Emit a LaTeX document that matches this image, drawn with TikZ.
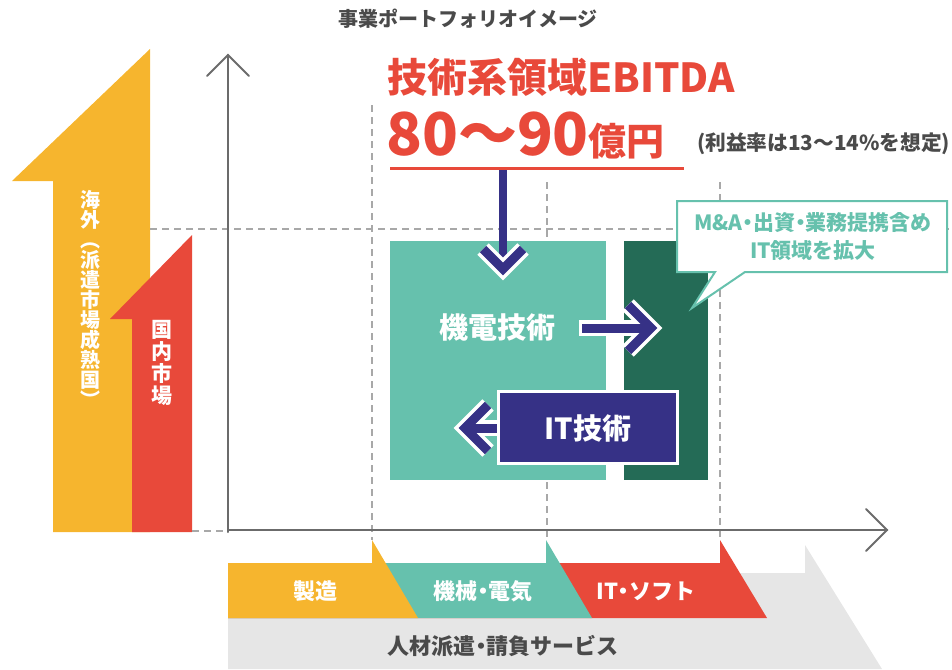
\documentclass[tikz,border=0pt]{standalone}
\usepackage{fontspec}
\setmainfont{Noto Sans CJK JP}
\definecolor{yelc}{HTML}{F6B52E}
\definecolor{redc}{HTML}{E8493A}
\definecolor{tealc}{HTML}{66C1AD}
\definecolor{darkg}{HTML}{246B56}
\definecolor{navyc}{HTML}{363186}
\definecolor{bandgray}{HTML}{E6E6E6}
\definecolor{dashgray}{HTML}{A8A8A8}
\definecolor{axisgray}{HTML}{6B6B6B}
\definecolor{txtgray}{HTML}{4A4A4A}
\newcommand{\ndot}{{\kern-0.25em・\kern-0.25em}}
\begin{document}
\begin{tikzpicture}[x=1pt,y=-1pt,
  guide/.style={dashgray,line width=1.1pt,dash pattern=on 7pt off 5pt},
  axisline/.style={axisgray,line width=2pt,line cap=round,line join=miter},
  arrwhite/.style={white,line width=16pt,line join=miter,line cap=butt},
  arrnavy/.style={navyc,line width=9pt,line join=miter,line cap=butt},
  lbl/.style={inner sep=0pt,font=\bfseries},
  vtext/.style={inner sep=0pt,align=center,text=white,font=\bfseries}]
\useasboundingbox (0,0) rectangle (952,669);

% title
\node[lbl,text=txtgray,font=\bfseries\fontsize{20}{22}\selectfont] (title) at (468,19) {事業ポートフォリオイメージ};

% market arrows
\fill[yelc] (150,49) -- (150,532) -- (53,532) -- (53,181) -- (12,181) -- cycle;
\fill[redc] (192,235) -- (192,532) -- (132,532) -- (132,319) -- (110,319) -- cycle;
\node[vtext,font=\bfseries\fontsize{20}{20}\selectfont] (kaigai) at (90,299) {海\\外\\︵\\派\\遣\\市\\場\\成\\熟\\国\\︶};
\node[vtext,font=\bfseries\fontsize{21}{21.8}\selectfont] (kokunai) at (162,363) {国\\内\\市\\場};

% guides
\draw[guide] (150,229) -- (952,229);
\draw[guide] (192,531) -- (228,531);
\draw[guide] (372,105) -- (372,540);
\draw[guide] (547,182) -- (547,540);
\draw[guide] (720,182) -- (720,540);

% axes
\coordinate (org) at (228,530);
\coordinate (ytip) at (228,55);
\coordinate (xtip) at (887,530);
\draw[axisline] (228,532) -- (ytip);
\draw[axisline] (207,76) -- (ytip) -- (249,76);
\draw[axisline] (org) -- (xtip);
\draw[axisline] (866,509) -- (xtip) -- (866,551);

% bottom bands
\fill[bandgray] (228,573) -- (805,573) -- (805,545) -- (882,669) -- (228,669) -- cycle;
\fill[redc] (228,563) -- (720,563) -- (720,540) -- (767,618) -- (228,618) -- cycle;
\fill[tealc] (228,563) -- (546,563) -- (546,540) -- (592,618) -- (228,618) -- cycle;
\fill[yelc] (228,563) -- (372,563) -- (372,540) -- (418,618) -- (228,618) -- cycle;
\node[lbl,text=white,font=\bfseries\fontsize{22}{24}\selectfont] (seizo) at (315,591) {製造};
\node[lbl,text=white,font=\bfseries\fontsize{22}{24}\selectfont] (kikai) at (483,591) {機械\ndot 電気};
\node[lbl,text=white,font=\bfseries\fontsize{22}{24}\selectfont] (itsoft) at (646,591) {IT\ndot ソフト};
\node[lbl,text=txtgray,font=\bfseries\fontsize{22}{24}\selectfont] (jinzai) at (503,646) {人材派遣\ndot 請負サービス};

% EBITDA headline
\node[lbl,text=redc,anchor=base west,font=\bfseries\fontsize{40}{44}\selectfont] (ebitda) at (387,92) {技術系領域EBITDA};
\node[lbl,text=redc,anchor=base west] (amount) at (386,155) {{\fontsize{59}{62}\selectfont 80～90}{\fontsize{38}{42}\selectfont 億円}};
\node[lbl,text=txtgray,anchor=base west,font=\bfseries\fontsize{20.7}{22}\selectfont] (rieki) at (697,150) {(利益率は13～14\%を想定)};
\coordinate (ulL) at (390,168);
\coordinate (ulR) at (684,168);

% boxes
\node[fill=tealc,inner sep=0pt,minimum width=216pt,minimum height=239pt] (kiden) at (498,360.5) {};
\node[fill=darkg,inner sep=0pt,minimum width=84pt,minimum height=239pt] (itarea) at (666,360.5) {};
\node[lbl,text=white,font=\bfseries\fontsize{29}{32}\selectfont] (kidenlbl) at (497,327) {機電技術};

% down arrow
\coordinate (dtop) at (503,168);
\coordinate (dtip) at (503,269);
\draw[navyc,line width=8pt] (dtop) -- (503,262);
\draw[arrwhite] (483,249) -- (dtip) -- (523,249);
\draw[arrnavy] (483,249) -- (dtip) -- (523,249);
\draw[redc,line width=3pt] (ulL) -- (ulR);

% right arrow
\coordinate (rtip) at (651,328);
\draw[arrwhite] (579,328) -- (645,328);
\draw[arrwhite] (628,305) -- (rtip) -- (628,351);
\draw[arrnavy] (582,328) -- (645,328);
\draw[arrnavy] (628,305) -- (rtip) -- (628,351);

% left arrow
\coordinate (ltip) at (465,428);
\draw[arrwhite] (500,428) -- (471,428);
\draw[arrwhite] (488,405) -- (ltip) -- (488,451);
\draw[arrnavy] (500,428) -- (471,428);
\draw[arrnavy] (488,405) -- (ltip) -- (488,451);

% IT box
\node[fill=navyc,draw=white,line width=3pt,inner sep=0pt,minimum width=179pt,minimum height=72pt] (itbox) at (587.5,427) {};
\node[lbl,text=white,font=\bfseries\fontsize{29}{32}\selectfont] (itlbl) at (588,428) {IT技術};

% callout
\draw[tealc,line width=2pt,fill=white,line join=miter] (677,201) -- (947,201) -- (947,272) -- (745,272) -- (692,308) -- (715,272) -- (677,272) -- cycle;
\node[lbl,text=tealc,align=center,font=\bfseries\fontsize{21}{28}\selectfont] (callout) at (813,237) {M\&A\ndot 出資\ndot 業務提携含め\\IT領域を拡大};
\end{tikzpicture}
\end{document}
